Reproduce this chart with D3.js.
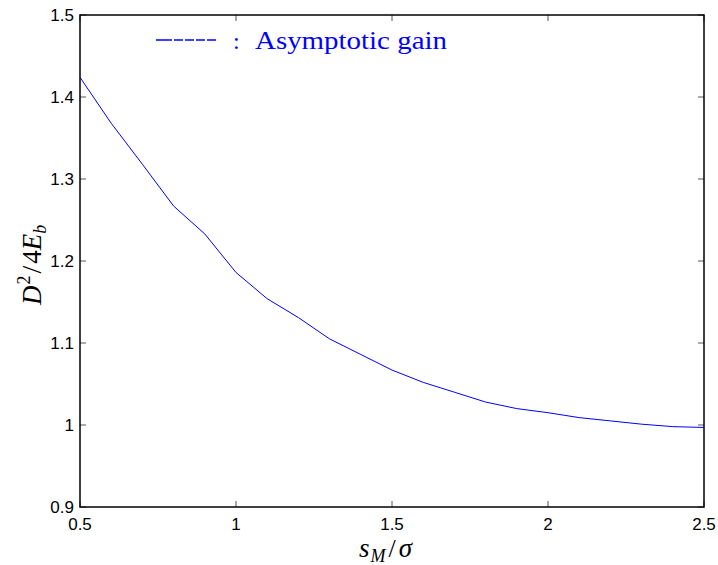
<!DOCTYPE html>
<html>
<head>
<meta charset="utf-8">
<script src="https://cdn.jsdelivr.net/npm/d3@7"></script>
<style>
  body { margin: 0; background: #fff; }
  .tick-label { font-family: "Liberation Sans", Arial, sans-serif; font-size: 17px; fill: #000; }
  .math { font-family: "Liberation Serif", "DejaVu Serif", serif; font-style: italic; fill: #000; }
</style>
</head>
<body>
<svg id="chart" width="718" height="565"></svg>
<script>
// values
const xValues = [0.5, 0.6, 0.7, 0.8, 0.9, 1.0, 1.1, 1.2, 1.3, 1.4, 1.5, 1.6, 1.7, 1.8, 1.9, 2.0, 2.1, 2.2, 2.3, 2.4, 2.5];
const gainValues = [1.424, 1.368, 1.318, 1.267, 1.233, 1.186, 1.154, 1.131, 1.105, 1.086, 1.067, 1.052, 1.040, 1.028, 1.020, 1.015, 1.009, 1.005, 1.001, 0.998, 0.997];
const xTicks = [0.5, 1, 1.5, 2, 2.5];
const yTicks = [0.9, 1, 1.1, 1.2, 1.3, 1.4, 1.5];
const legendLabel = "Asymptotic gain";

const margin = { top: 15, right: 14, bottom: 58, left: 80 };
const svg = d3.select('#chart');
const W = 718, H = 565;
const w = W - margin.left - margin.right;
const h = H - margin.top - margin.bottom;

const x = d3.scaleLinear().domain([0.5, 2.5]).range([0, w]);
const y = d3.scaleLinear().domain([0.9, 1.5]).range([h, 0]);

const g = svg.append('g').attr('transform', `translate(${margin.left},${margin.top})`);

// ticks (inside, mirrored on top and right)
const tickLen = 6;
xTicks.forEach(t => {
  g.append('line').attr('x1', x(t)).attr('x2', x(t)).attr('y1', h).attr('y2', h - tickLen)
    .attr('stroke', '#555').attr('stroke-width', 1);
  g.append('line').attr('x1', x(t)).attr('x2', x(t)).attr('y1', 0).attr('y2', tickLen)
    .attr('stroke', '#555').attr('stroke-width', 1);
  g.append('text').attr('class', 'tick-label')
    .attr('x', x(t)).attr('y', h + 23)
    .attr('text-anchor', 'middle')
    .text(t);
});
yTicks.forEach(t => {
  g.append('line').attr('x1', 0).attr('x2', tickLen).attr('y1', y(t)).attr('y2', y(t))
    .attr('stroke', '#555').attr('stroke-width', 1);
  g.append('line').attr('x1', w).attr('x2', w - tickLen).attr('y1', y(t)).attr('y2', y(t))
    .attr('stroke', '#555').attr('stroke-width', 1);
  g.append('text').attr('class', 'tick-label')
    .attr('x', -6).attr('y', y(t) + 6)
    .attr('text-anchor', 'end')
    .text(t);
});

// data line
const line = d3.line().x((d, i) => x(xValues[i])).y(d => y(d));
g.append('path').datum(gainValues)
  .attr('d', line)
  .attr('fill', 'none')
  .attr('stroke', '#0000ff')
  .attr('stroke-width', 1);

// frame
g.append('rect').attr('x', 0).attr('y', 0).attr('width', w).attr('height', h)
  .attr('fill', 'none').attr('stroke', '#000').attr('stroke-width', 1.5);

// legend
svg.append('line').attr('x1', 156).attr('x2', 222).attr('y1', 40).attr('y2', 40)
  .attr('stroke', '#0000ff').attr('stroke-width', 1.6)
  .attr('stroke-dasharray', '16,2,9,2,9,2,9,2,9');
svg.append('text')
  .attr('x', 233).attr('y', 49)
  .attr('font-family', '"Liberation Serif", "DejaVu Serif", serif')
  .attr('font-size', 24)
  .attr('fill', '#0000ff')
  .text(':');
svg.append('text')
  .attr('x', 255).attr('y', 49)
  .attr('font-family', '"Liberation Serif", "DejaVu Serif", serif')
  .attr('font-size', 25)
  .attr('fill', '#0000ff')
  .attr('textLength', 192)
  .attr('lengthAdjust', 'spacingAndGlyphs')
  .text(legendLabel);

// x axis label: s_M / sigma
const xl = svg.append('text').attr('class', 'math')
  .attr('x', 359).attr('y', 557)
  .attr('font-size', 27);
xl.append('tspan').text('s');
xl.append('tspan').attr('font-size', 18).attr('dy', 5).attr('dx', 1).text('M');
xl.append('tspan').attr('dy', -5).attr('dx', 3).attr('font-style', 'normal').attr('font-size', 26).text('/');
xl.append('tspan').attr('dx', 3).text('σ');

// y axis label: D^2 / 4E_b
const yl = svg.append('text').attr('class', 'math')
  .attr('transform', `translate(41,305) rotate(-90)`)
  .attr('font-size', 27);
yl.append('tspan').text('D');
yl.append('tspan').attr('font-size', 18).attr('font-style', 'normal').attr('dy', -11).attr('dx', 1).text('2');
yl.append('tspan').attr('dy', 11).attr('dx', 2).attr('font-style', 'normal').attr('font-size', 28).text('/');
yl.append('tspan').attr('dx', 2).attr('font-style', 'normal').text('4');
yl.append('tspan').text('E');
yl.append('tspan').attr('font-size', 18).attr('dy', 5).text('b');
</script>
</body>
</html>
